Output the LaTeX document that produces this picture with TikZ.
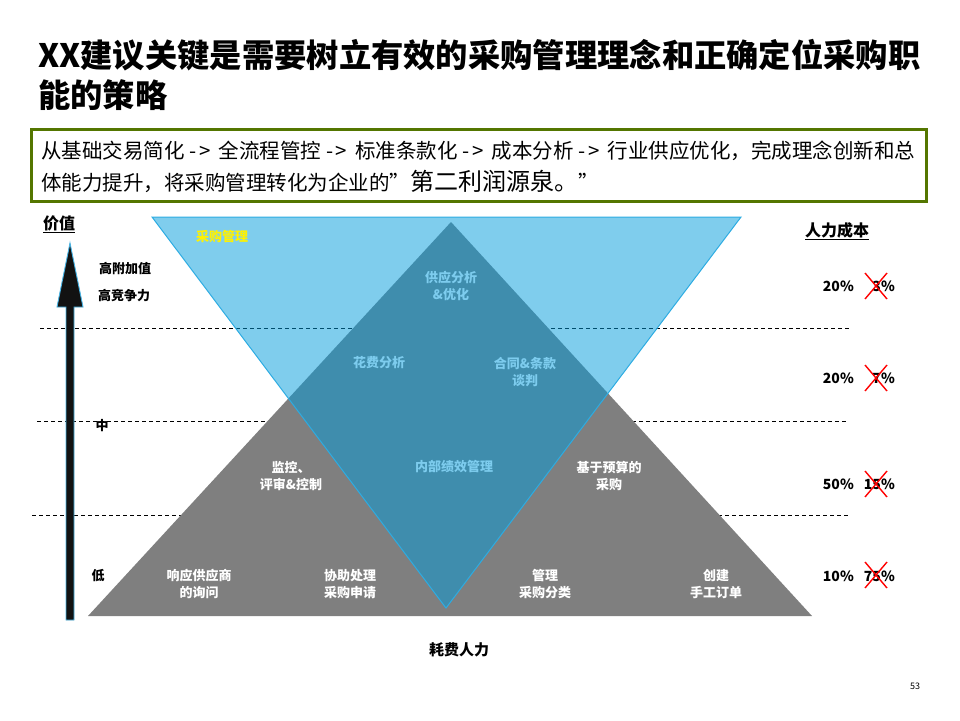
\documentclass[tikz,border=0pt]{standalone}
\usepackage{fontspec}
\setmainfont{Noto Sans CJK SC}
\definecolor{boxgreen}{RGB}{84,118,0}
\definecolor{trigray}{RGB}{127,127,127}
\definecolor{triblue}{RGB}{0,155,219}
\definecolor{edgeblue}{RGB}{45,172,226}
\definecolor{lbtext}{RGB}{125,204,238}
\definecolor{arrowedge}{RGB}{70,180,230}
\newcommand{\myarr}{\hspace{5pt}-\hspace{2.5pt}>\hspace{8pt}}
\begin{document}
\begin{tikzpicture}[x=1pt,y=-1pt,
  lbl/.style={font=\fontsize{13}{17}\selectfont\bfseries, align=center, inner sep=0pt},
  wlbl/.style={lbl, text=white},
  blbl/.style={lbl, text=lbtext},
  axl/.style={font=\fontsize{13}{16}\selectfont\bfseries, inner sep=0pt},
  pct/.style={font=\fontsize{14}{16}\selectfont\bfseries, inner sep=0pt, anchor=east},
  cross/.style={draw=red, line width=1.4pt},
  guide/.style={draw=black, line width=0.9pt, dash pattern=on 4pt off 3pt}]
\useasboundingbox (0,0) rectangle (960,720);
% title
\node[anchor=west, inner sep=0pt, font=\fontsize{32.3}{36}\selectfont\bfseries] (title1) at (38,55) {XX建议关键是需要树立有效的采购管理理念和正确定位采购职};
\node[anchor=west, inner sep=0pt, font=\fontsize{32.3}{36}\selectfont\bfseries] (title2) at (38,95) {能的策略};
% box
\node[draw=boxgreen, line width=3pt, minimum width=895pt, minimum height=72pt, anchor=north west, inner sep=0pt] (box) at (30,128) {};
\node[anchor=west, inner sep=0pt, font=\fontsize{20.5}{24}\selectfont] (boxl1) at (41,151) {从基础交易简化\myarr 全流程管控\myarr 标准条款化\myarr 成本分析\myarr 行业供应优化，完成理念创新和总};
\node[anchor=west, inner sep=0pt, font=\fontsize{20.5}{24}\selectfont] (boxl2) at (41,181) {体能力提升，将采购管理转化为企业的”{\fontsize{24}{26}\selectfont 第二利润源泉。}”};
% guides
\coordinate (g1a) at (40,328); \coordinate (g1b) at (850,328);
\coordinate (g2a) at (37,421); \coordinate (g2b) at (848,421);
\coordinate (g3a) at (32,515); \coordinate (g3b) at (848,515);
\draw[guide] (g1a) -- (g1b);
\draw[guide] (g2a) -- (g2b);
\draw[guide] (g3a) -- (g3b);
% triangles
\coordinate (gA) at (451,222); \coordinate (gL) at (88,616); \coordinate (gR) at (812,616);
\fill[trigray] (gA) -- (gL) -- (gR) -- cycle;
\coordinate (bL) at (152,217); \coordinate (bR) at (741,217); \coordinate (bA) at (446,608);
\filldraw[fill=triblue, fill opacity=0.5, draw=edgeblue, line width=1pt] (bL) -- (bR) -- (bA) -- cycle;
% arrow
\coordinate (aT) at (70,243);
\filldraw[fill=black!93, draw=arrowedge, line width=0.9pt] (aT) -- (83,307) -- (74,307) -- (74,620) -- (66,620) -- (66,307) -- (57,307) -- cycle;
% axis labels
\node[font=\fontsize{16}{18}\selectfont\bfseries, inner sep=0pt] (val) at (59,224) {\underline{价值}};
\node[font=\fontsize{16}{18}\selectfont\bfseries, inner sep=0pt] (cost) at (837,231) {\underline{人力成本}};
\node[axl] (hi1) at (125,269) {高附加值};
\node[axl] (hi2) at (124,296) {高竞争力};
\node[axl] (mid) at (102,426) {中};
\node[axl] (low) at (98,576) {低};
\node[font=\fontsize{15}{18}\selectfont\bfseries, inner sep=0pt] (xlab) at (459,650) {耗费人力};
\node[font=\fontsize{9}{10}\selectfont, inner sep=0pt] (pg) at (915,686) {53};
% inside labels
\node[lbl, text=yellow] (cg) at (222,237) {采购管理};
\node[blbl] (s1) at (451,286) {供应分析\\\&优化};
\node[blbl] (s2) at (379,363) {花费分析};
\node[blbl] (s3) at (525,372) {合同\&条款\\谈判};
\node[blbl] (s4) at (454,467) {内部绩效管理};
\node[wlbl] (s5) at (291,476) {监控、\\评审\&控制};
\node[wlbl] (s6) at (609,476) {基于预算的\\采购};
\node[wlbl] (s7) at (199,584) {响应供应商\\的询问};
\node[wlbl] (s8) at (350,584) {协助处理\\采购申请};
\node[wlbl] (s9) at (545,584) {管理\\采购分类};
\node[wlbl] (s10) at (716,584) {创建\\手工订单};
% percentages
\node[pct] (p1) at (854,286) {20\%};
\node[pct] (q1) at (895,286) {3\%};
\node[pct] (p2) at (854,378) {20\%};
\node[pct] (q2) at (895,378) {7\%};
\node[pct] (p3) at (854,484) {50\%};
\node[pct] (q3) at (895,484) {15\%};
\node[pct] (p4) at (854,576) {10\%};
\node[pct] (q4) at (895,576) {75\%};
% red crosses
\draw[cross] (865,273) -- (887,299); \draw[cross] (887,273) -- (865,299);
\draw[cross] (865,365) -- (887,391); \draw[cross] (887,365) -- (865,391);
\draw[cross] (865,471) -- (887,497); \draw[cross] (887,471) -- (865,497);
\draw[cross] (865,562) -- (887,588); \draw[cross] (887,562) -- (865,588);
\end{tikzpicture}
\end{document}
